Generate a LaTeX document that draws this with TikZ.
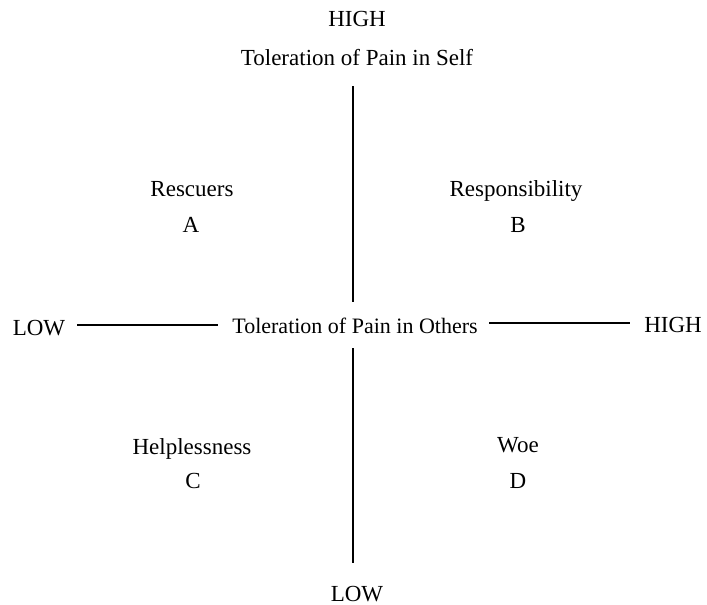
\documentclass[tikz,border=0pt]{standalone}
\usepackage{fontspec}
\setmainfont{Liberation Serif}
\begin{document}
\begin{tikzpicture}[x=1pt,y=-1pt,
  lbl/.style={anchor=base,inner sep=0pt,font=\fontsize{23}{26}\selectfont},
  axis/.style={line width=1.3pt,black}]
\useasboundingbox[fill=white] (0,0) rectangle (707,605);
% titles
\node[lbl] (hightop) at (357,27) {HIGH};
\node[lbl] (self) at (357,65) {Toleration of Pain in Self};
\node[lbl] (lowbot) at (357,601) {LOW};
\node[lbl] (lowleft) at (39,335) {LOW};
\node[lbl,font=\fontsize{22}{26}\selectfont] (others) at (355,333) {Toleration of Pain in Others};
\node[lbl] (highright) at (673,332) {HIGH};
% quadrants
\node[lbl] (resc) at (192,196) {Rescuers};
\node[lbl] (qa) at (191,232) {A};
\node[lbl] (resp) at (516,196) {Responsibility};
\node[lbl] (qb) at (518,232) {B};
\node[lbl] (help) at (192,454) {Helplessness};
\node[lbl] (qc) at (193,488) {C};
\node[lbl] (woe) at (518,452) {Woe};
\node[lbl] (qd) at (518,488) {D};
% axis end points
\coordinate (vt1) at (353,86);
\coordinate (vt2) at (353,302);
\coordinate (vb1) at (353,348);
\coordinate (vb2) at (353,563);
\coordinate (hl1) at (77,325);
\coordinate (hl2) at (218,325);
\coordinate (hr1) at (489,323);
\coordinate (hr2) at (630,323);
\draw[axis] (vt1) -- (vt2);
\draw[axis] (vb1) -- (vb2);
\draw[axis] (hl1) -- (hl2);
\draw[axis] (hr1) -- (hr2);
\end{tikzpicture}
\end{document}
